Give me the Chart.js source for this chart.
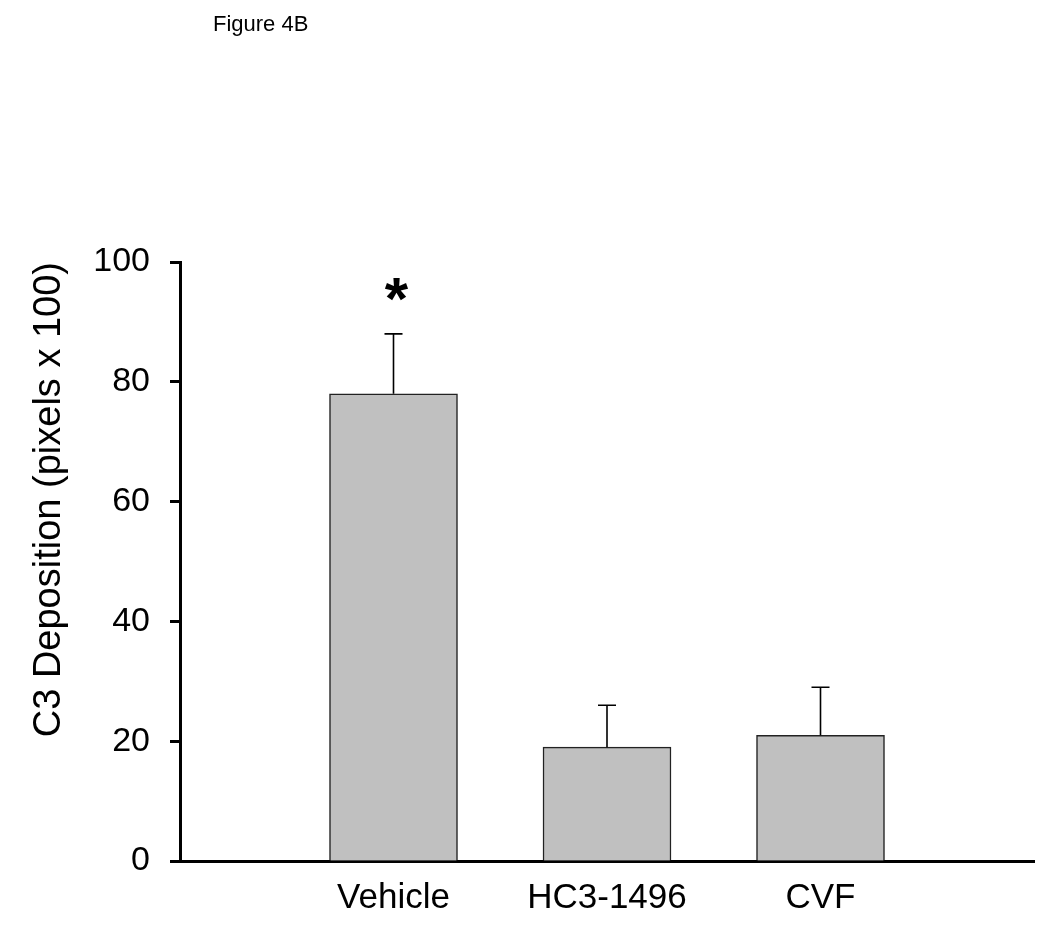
<!DOCTYPE html>
<html>
<head>
<meta charset="utf-8">
<title>Figure 4B</title>
<script src="https://cdn.jsdelivr.net/npm/chart.js@4.4.0/dist/chart.umd.min.js"></script>
<style>
    body { margin: 0; background: #fff; }
    #wrap { position: relative; width: 1050px; height: 946px; }
    #figLabel {
        position: absolute; left: 213px; top: 13px;
        font-family: "Liberation Sans", Arial, sans-serif;
        font-size: 22px; line-height: 1; color: #000;
    }
</style>
</head>
<body>
<div id="wrap">
    <div id="figLabel">Figure 4B</div>
    <canvas id="c3Chart" width="1050" height="946"></canvas>
</div>
<script>
// Data (empty slots at both ends give the spacing)
const groups = ['', 'Vehicle', 'HC3-1496', 'CVF', ''];
const means = [null, 78, 19, 21, null];
const errors = [null, 10, 7, 8, null];
const marks = ['', '*', '', '', ''];
const yTicks = [0, 20, 40, 60, 80, 100];

const fontFamily = '"Liberation Sans", Arial, sans-serif';

// Draws the upper error bars and the significance mark
const errorBarPlugin = {
    id: 'errorBars',
    afterDatasetsDraw(chart) {
        const ctx = chart.ctx;
        const yScale = chart.scales.y;
        const meta = chart.getDatasetMeta(0);
        ctx.save();
        ctx.strokeStyle = '#000';
        ctx.lineWidth = 1.6;
        meta.data.forEach((bar, i) => {
            if (means[i] == null) return;
            const x = bar.x;
            const yTop = yScale.getPixelForValue(means[i] + errors[i]);
            ctx.beginPath();
            ctx.moveTo(x, bar.y);
            ctx.lineTo(x, yTop);
            ctx.moveTo(x - 9, yTop);
            ctx.lineTo(x + 9, yTop);
            ctx.stroke();
            if (marks[i]) {
                ctx.fillStyle = '#000';
                ctx.font = 'bold 60px ' + fontFamily;
                ctx.textAlign = 'center';
                ctx.textBaseline = 'alphabetic';
                ctx.fillText(marks[i], x + 3, yTop - 15);
            }
        });
        ctx.restore();
    }
};

document.addEventListener('DOMContentLoaded', function() {
    const ctx = document.getElementById('c3Chart').getContext('2d');
    new Chart(ctx, {
        type: 'bar',
        data: {
            labels: groups,
            datasets: [{
                data: means,
                backgroundColor: '#c0c0c0',
                borderColor: '#222',
                borderWidth: 1.5,
                barThickness: 128
            }]
        },
        options: {
            responsive: false,
            animation: false,
            layout: {
                padding: { top: 262, right: 13, left: 0, bottom: 0 }
            },
            plugins: {
                legend: { display: false },
                tooltip: { enabled: false }
            },
            scales: {
                x: {
                    offset: false,
                    afterFit: scale => { scale.height = 85; },
                    grid: { drawOnChartArea: false, drawTicks: false },
                    border: { color: '#000', width: 3 },
                    ticks: {
                        color: '#000',
                        autoSkip: false,
                        maxRotation: 0,
                        padding: 16,
                        font: { family: fontFamily, size: 35 }
                    }
                },
                y: {
                    min: 0,
                    max: 100,
                    afterFit: scale => { scale.width = 180; },
                    afterBuildTicks: scale => {
                        scale.ticks = yTicks.map(v => ({ value: v }));
                    },
                    grid: {
                        drawOnChartArea: false,
                        tickLength: 10,
                        tickWidth: 3,
                        tickColor: '#000'
                    },
                    border: { color: '#000', width: 3 },
                    ticks: {
                        color: '#000',
                        padding: 20,
                        font: { family: fontFamily, size: 34 }
                    },
                    title: {
                        display: true,
                        text: 'C3 Deposition (pixels x 100)',
                        align: 'end',
                        color: '#000',
                        padding: { top: 27, bottom: 0 },
                        font: { family: fontFamily, size: 38, lineHeight: 1.2 }
                    }
                }
            }
        },
        plugins: [errorBarPlugin]
    });
});
</script>
</body>
</html>
